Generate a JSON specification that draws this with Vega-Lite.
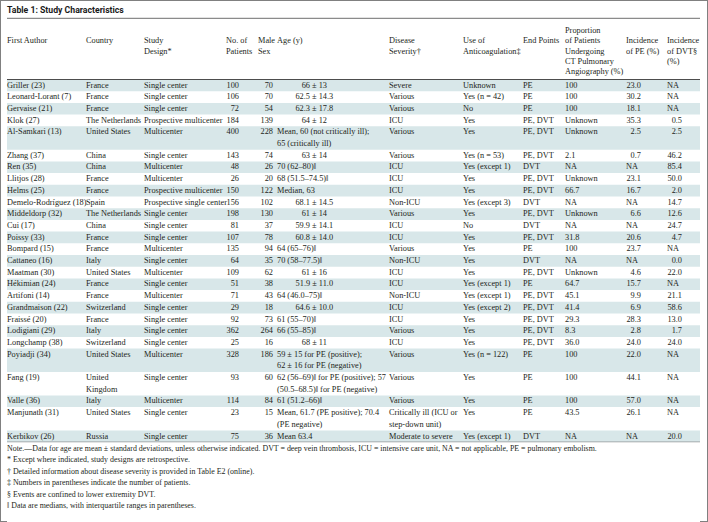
{
"$schema":"https://vega.github.io/schema/vega-lite/v6.json",
"padding":0,
"background":"white",
"config":{"view":{"stroke":null},"axis":{"disable":true},"concat":{"spacing":0},
"text":{"font":"Liberation Serif","fontSize":8.3,"color":"#231f20","lineBreak":"\n","lineHeight":11.7,"baseline":"line-top","align":"left"},
"rule":{"strokeCap":"butt"}},
"spacing":0,"bounds":"full",
"hconcat":[
{"width":7,"height":522,"data":{"values":[{}]},"layer":[
{"mark":{"type":"rule","color":"#808080","strokeWidth":1,"xOffset":0.5,"clip":true},"encoding":{"x":{"datum":"edge","type":"nominal","scale":{"type":"point","domain":["edge"],"padding":0,"align":0}}}},
{"mark":{"type":"rule","color":"#808080","strokeWidth":1,"yOffset":0.5,"clip":true},"encoding":{"y":{"datum":"top","type":"nominal","scale":{"type":"point","domain":["top","bottom"],"padding":0,"align":0}}}},
{"mark":{"type":"rule","color":"#808080","strokeWidth":1,"yOffset":-0.5,"clip":true},"encoding":{"y":{"datum":"bottom","type":"nominal"}}}
]},
{"vconcat":[
{"width":693,"height":20.5,"data":{"values":[{}]},"layer":[
{"mark":{"type":"rule","color":"#808080","strokeWidth":1,"yOffset":0.5,"clip":true},"encoding":{"y":{"datum":"top","type":"nominal","scale":{"type":"point","domain":["top","rule"],"padding":0.06,"align":0}}}},
{"mark":{"type":"rule","color":"#6e6e6e","strokeWidth":1,"clip":true},"encoding":{"y":{"datum":"rule","type":"nominal"}}},
{"mark":{"type":"text","text":"Table 1: Study Characteristics","font":"Roboto","fontWeight":"bold","fontSize":8.7,"baseline":"middle","color":"#1a1a1a"},"encoding":{"x":{"datum":"left","type":"nominal","scale":{"type":"point","domain":["left"],"padding":0,"align":0}}}}
]},
{"data":{"values":[
{"author":"Griller (23)","country":"France","design":"Single center","n":100,"male":70,"age":"66 ± 13","sev":"Severe","anti":"Unknown","ep":"PE","cta":"100","pe":"23.0","dvt":"NA"},
{"author":"Leonard-Lorant (7)","country":"France","design":"Single center","n":106,"male":70,"age":"62.5 ± 14.3","sev":"Various","anti":"Yes (n = 42)","ep":"PE","cta":"100","pe":"30.2","dvt":"NA"},
{"author":"Gervaise (21)","country":"France","design":"Single center","n":72,"male":54,"age":"62.3 ± 17.8","sev":"Various","anti":"No","ep":"PE","cta":"100","pe":"18.1","dvt":"NA"},
{"author":"Klok (27)","country":"The Netherlands","design":"Prospective multicenter","n":184,"male":139,"age":"64 ± 12","sev":"ICU","anti":"Yes","ep":"PE, DVT","cta":"Unknown","pe":"35.3","dvt":"0.5"},
{"author":"Al-Samkari (13)","country":"United States","design":"Multicenter","n":400,"male":228,"age":"Mean, 60 (not critically ill);\n\u00a0\u00a0\u00a0\u00a065 (critically ill)","sev":"Various","anti":"Yes","ep":"PE, DVT","cta":"Unknown","pe":"2.5","dvt":"2.5"},
{"author":"Zhang (37)","country":"China","design":"Single center","n":143,"male":74,"age":"63 ± 14","sev":"Various","anti":"Yes (n = 53)","ep":"PE, DVT","cta":"2.1","pe":"0.7","dvt":"46.2"},
{"author":"Ren (35)","country":"China","design":"Multicenter","n":48,"male":26,"age":"70 (62–80)‖","sev":"ICU","anti":"Yes (except 1)","ep":"DVT","cta":"NA","pe":"NA","dvt":"85.4"},
{"author":"Llitjos (28)","country":"France","design":"Multicenter","n":26,"male":20,"age":"68 (51.5–74.5)‖","sev":"ICU","anti":"Yes","ep":"PE, DVT","cta":"Unknown","pe":"23.1","dvt":"50.0"},
{"author":"Helms (25)","country":"France","design":"Prospective multicenter","n":150,"male":122,"age":"Median, 63","sev":"ICU","anti":"Yes","ep":"PE, DVT","cta":"66.7","pe":"16.7","dvt":"2.0"},
{"author":"Demelo-Rodríguez (18)","country":"Spain","design":"Prospective single center","n":156,"male":102,"age":"68.1 ± 14.5","sev":"Non-ICU","anti":"Yes (except 3)","ep":"DVT","cta":"NA","pe":"NA","dvt":"14.7"},
{"author":"Middeldorp (32)","country":"The Netherlands","design":"Single center","n":198,"male":130,"age":"61 ± 14","sev":"Various","anti":"Yes","ep":"PE, DVT","cta":"Unknown","pe":"6.6","dvt":"12.6"},
{"author":"Cui (17)","country":"China","design":"Single center","n":81,"male":37,"age":"59.9 ± 14.1","sev":"ICU","anti":"No","ep":"DVT","cta":"NA","pe":"NA","dvt":"24.7"},
{"author":"Poissy (33)","country":"France","design":"Single center","n":107,"male":78,"age":"60.8 ± 14.0","sev":"ICU","anti":"Yes","ep":"PE, DVT","cta":"31.8","pe":"20.6","dvt":"4.7"},
{"author":"Bompard (15)","country":"France","design":"Multicenter","n":135,"male":94,"age":"64 (65–76)‖","sev":"Various","anti":"Yes","ep":"PE","cta":"100","pe":"23.7","dvt":"NA"},
{"author":"Cattaneo (16)","country":"Italy","design":"Single center","n":64,"male":35,"age":"70 (58–77.5)‖","sev":"Non-ICU","anti":"Yes","ep":"DVT","cta":"NA","pe":"NA","dvt":"0.0"},
{"author":"Maatman (30)","country":"United States","design":"Multicenter","n":109,"male":62,"age":"61 ± 16","sev":"ICU","anti":"Yes","ep":"PE, DVT","cta":"Unknown","pe":"4.6","dvt":"22.0"},
{"author":"Hékimian (24)","country":"France","design":"Single center","n":51,"male":38,"age":"51.9 ± 11.0","sev":"ICU","anti":"Yes (except 1)","ep":"PE","cta":"64.7","pe":"15.7","dvt":"NA"},
{"author":"Artifoni (14)","country":"France","design":"Multicenter","n":71,"male":43,"age":"64 (46.0–75)‖","sev":"Non-ICU","anti":"Yes (except 1)","ep":"PE, DVT","cta":"45.1","pe":"9.9","dvt":"21.1"},
{"author":"Grandmaison (22)","country":"Switzerland","design":"Single center","n":29,"male":18,"age":"64.6 ± 10.0","sev":"ICU","anti":"Yes (except 2)","ep":"PE, DVT","cta":"41.4","pe":"6.9","dvt":"58.6"},
{"author":"Fraissé (20)","country":"France","design":"Single center","n":92,"male":73,"age":"61 (55–70)‖","sev":"ICU","anti":"Yes","ep":"PE, DVT","cta":"29.3","pe":"28.3","dvt":"13.0"},
{"author":"Lodigiani (29)","country":"Italy","design":"Single center","n":362,"male":264,"age":"66 (55–85)‖","sev":"Various","anti":"Yes","ep":"PE, DVT","cta":"8.3","pe":"2.8","dvt":"1.7"},
{"author":"Longchamp (38)","country":"Switzerland","design":"Single center","n":25,"male":16,"age":"68 ± 11","sev":"ICU","anti":"Yes","ep":"PE, DVT","cta":"36.0","pe":"24.0","dvt":"24.0"},
{"author":"Poyiadji (34)","country":"United States","design":"Multicenter","n":328,"male":186,"age":"59 ± 15 for PE (positive);\n\u00a0\u00a0\u00a0\u00a062 ± 16 for PE (negative)","sev":"Various","anti":"Yes (n = 122)","ep":"PE","cta":"100","pe":"22.0","dvt":"NA"},
{"author":"Fang (19)","country":"United\n\u00a0\u00a0\u00a0\u00a0\u00a0Kingdom","design":"Single center","n":93,"male":60,"age":"62 (56–69)‖ for PE (positive); 57\n\u00a0\u00a0\u00a0\u00a0(50.5–68.5)‖ for PE (negative)","sev":"Various","anti":"Yes","ep":"PE","cta":"100","pe":"44.1","dvt":"NA"},
{"author":"Valle (36)","country":"Italy","design":"Multicenter","n":114,"male":84,"age":"61 (51.2–66)‖","sev":"Various","anti":"Yes","ep":"PE","cta":"100","pe":"57.0","dvt":"NA"},
{"author":"Manjunath (31)","country":"United States","design":"Single center","n":23,"male":15,"age":"Mean, 61.7 (PE positive); 70.4\n(PE negative)","sev":"Critically ill (ICU or\n\u00a0\u00a0\u00a0\u00a0step-down unit)","anti":"Yes","ep":"PE","cta":"43.5","pe":"26.1","dvt":"NA"},
{"author":"Kerbikov (26)","country":"Russia","design":"Single center","n":75,"male":36,"age":"Mean 63.4","sev":"Moderate to severe","anti":"Yes (except 1)","ep":"DVT","cta":"NA","pe":"NA","dvt":"20.0"}
]},
"transform":[{"window":[{"op":"row_number","as":"rn"}]}],
"spacing":0,"bounds":"flush",
"hconcat":[
{"width":79,"height":421.2,"layer":[
{"transform":[{"filter":"datum.rn % 2 == 1 && indexof(datum.age, '\\n') < 0"}],"mark":{"type":"rule","color":"#d8e7e9","strokeWidth":11.7,"clip":true},"encoding":{"y":{"field":"author","type":"nominal","bandPosition":0.5,"scale":{"type":"band","domain":["h1","h2","h3","h4","h5","Griller (23)","Leonard-Lorant (7)","Gervaise (21)","Klok (27)","Al-Samkari (13)","Al-Samkari (13) +","Zhang (37)","Ren (35)","Llitjos (28)","Helms (25)","Demelo-Rodríguez (18)","Middeldorp (32)","Cui (17)","Poissy (33)","Bompard (15)","Cattaneo (16)","Maatman (30)","Hékimian (24)","Artifoni (14)","Grandmaison (22)","Fraissé (20)","Lodigiani (29)","Longchamp (38)","Poyiadji (34)","Poyiadji (34) +","Fang (19)","Fang (19) +","Valle (36)","Manjunath (31)","Manjunath (31) +","Kerbikov (26)"],"paddingInner":0,"paddingOuter":0,"round":false}}}},
{"transform":[{"filter":"datum.rn % 2 == 1 && indexof(datum.age, '\\n') >= 0"}],"mark":{"type":"rule","color":"#d8e7e9","strokeWidth":23.4,"clip":true},"encoding":{"y":{"field":"author","type":"nominal","bandPosition":1}}},
{"data":{"values":[{}]},"mark":{"type":"rule","color":"#4d4d4d","strokeWidth":1,"clip":true},"encoding":{"y":{"datum":"Griller (23)","type":"nominal","bandPosition":0}}},
{"data":{"values":[{}]},"mark":{"type":"rule","color":"#6b6b6b","strokeWidth":1,"clip":true},"encoding":{"y":{"datum":"Kerbikov (26)","type":"nominal","bandPosition":1}}},
{"data":{"values":[{}]},"mark":{"type":"text","text":["\u00a0","\u00a0","\u00a0","\u00a0","First Author"],"lineHeight":10.3,"dy":4},"encoding":{"x":{"datum":"left","type":"nominal","scale":{"type":"point","domain":["left"],"padding":0,"align":0}},"y":{"datum":"h1","type":"nominal","bandPosition":0}}},
{"mark":"text","encoding":{"x":{"datum":"left","type":"nominal"},"y":{"field":"author","type":"nominal","bandPosition":0},"text":{"field":"author","type":"nominal"}}}
]},
{"width":58,"height":421.2,"layer":[
{"transform":[{"filter":"datum.rn % 2 == 1 && indexof(datum.age, '\\n') < 0"}],"mark":{"type":"rule","color":"#d8e7e9","strokeWidth":11.7,"clip":true},"encoding":{"y":{"field":"author","type":"nominal","bandPosition":0.5,"scale":{"type":"band","domain":["h1","h2","h3","h4","h5","Griller (23)","Leonard-Lorant (7)","Gervaise (21)","Klok (27)","Al-Samkari (13)","Al-Samkari (13) +","Zhang (37)","Ren (35)","Llitjos (28)","Helms (25)","Demelo-Rodríguez (18)","Middeldorp (32)","Cui (17)","Poissy (33)","Bompard (15)","Cattaneo (16)","Maatman (30)","Hékimian (24)","Artifoni (14)","Grandmaison (22)","Fraissé (20)","Lodigiani (29)","Longchamp (38)","Poyiadji (34)","Poyiadji (34) +","Fang (19)","Fang (19) +","Valle (36)","Manjunath (31)","Manjunath (31) +","Kerbikov (26)"],"paddingInner":0,"paddingOuter":0,"round":false}}}},
{"transform":[{"filter":"datum.rn % 2 == 1 && indexof(datum.age, '\\n') >= 0"}],"mark":{"type":"rule","color":"#d8e7e9","strokeWidth":23.4,"clip":true},"encoding":{"y":{"field":"author","type":"nominal","bandPosition":1}}},
{"data":{"values":[{}]},"mark":{"type":"rule","color":"#4d4d4d","strokeWidth":1,"clip":true},"encoding":{"y":{"datum":"Griller (23)","type":"nominal","bandPosition":0}}},
{"data":{"values":[{}]},"mark":{"type":"rule","color":"#6b6b6b","strokeWidth":1,"clip":true},"encoding":{"y":{"datum":"Kerbikov (26)","type":"nominal","bandPosition":1}}},
{"data":{"values":[{}]},"mark":{"type":"text","text":["\u00a0","\u00a0","\u00a0","\u00a0","Country"],"lineHeight":10.3,"dy":4},"encoding":{"x":{"datum":"left","type":"nominal","scale":{"type":"point","domain":["left"],"padding":0,"align":0}},"y":{"datum":"h1","type":"nominal","bandPosition":0}}},
{"mark":"text","encoding":{"x":{"datum":"left","type":"nominal"},"y":{"field":"author","type":"nominal","bandPosition":0},"text":{"field":"country","type":"nominal"}}}
]},
{"width":82,"height":421.2,"layer":[
{"transform":[{"filter":"datum.rn % 2 == 1 && indexof(datum.age, '\\n') < 0"}],"mark":{"type":"rule","color":"#d8e7e9","strokeWidth":11.7,"clip":true},"encoding":{"y":{"field":"author","type":"nominal","bandPosition":0.5,"scale":{"type":"band","domain":["h1","h2","h3","h4","h5","Griller (23)","Leonard-Lorant (7)","Gervaise (21)","Klok (27)","Al-Samkari (13)","Al-Samkari (13) +","Zhang (37)","Ren (35)","Llitjos (28)","Helms (25)","Demelo-Rodríguez (18)","Middeldorp (32)","Cui (17)","Poissy (33)","Bompard (15)","Cattaneo (16)","Maatman (30)","Hékimian (24)","Artifoni (14)","Grandmaison (22)","Fraissé (20)","Lodigiani (29)","Longchamp (38)","Poyiadji (34)","Poyiadji (34) +","Fang (19)","Fang (19) +","Valle (36)","Manjunath (31)","Manjunath (31) +","Kerbikov (26)"],"paddingInner":0,"paddingOuter":0,"round":false}}}},
{"transform":[{"filter":"datum.rn % 2 == 1 && indexof(datum.age, '\\n') >= 0"}],"mark":{"type":"rule","color":"#d8e7e9","strokeWidth":23.4,"clip":true},"encoding":{"y":{"field":"author","type":"nominal","bandPosition":1}}},
{"data":{"values":[{}]},"mark":{"type":"rule","color":"#4d4d4d","strokeWidth":1,"clip":true},"encoding":{"y":{"datum":"Griller (23)","type":"nominal","bandPosition":0}}},
{"data":{"values":[{}]},"mark":{"type":"rule","color":"#6b6b6b","strokeWidth":1,"clip":true},"encoding":{"y":{"datum":"Kerbikov (26)","type":"nominal","bandPosition":1}}},
{"data":{"values":[{}]},"mark":{"type":"text","text":["\u00a0","\u00a0","\u00a0","Study","Design*"],"lineHeight":10.3,"dy":4},"encoding":{"x":{"datum":"left","type":"nominal","scale":{"type":"point","domain":["left"],"padding":0,"align":0}},"y":{"datum":"h1","type":"nominal","bandPosition":0}}},
{"mark":"text","encoding":{"x":{"datum":"left","type":"nominal"},"y":{"field":"author","type":"nominal","bandPosition":0},"text":{"field":"design","type":"nominal"}}}
]},
{"width":32,"height":421.2,"layer":[
{"transform":[{"filter":"datum.rn % 2 == 1 && indexof(datum.age, '\\n') < 0"}],"mark":{"type":"rule","color":"#d8e7e9","strokeWidth":11.7,"clip":true},"encoding":{"y":{"field":"author","type":"nominal","bandPosition":0.5,"scale":{"type":"band","domain":["h1","h2","h3","h4","h5","Griller (23)","Leonard-Lorant (7)","Gervaise (21)","Klok (27)","Al-Samkari (13)","Al-Samkari (13) +","Zhang (37)","Ren (35)","Llitjos (28)","Helms (25)","Demelo-Rodríguez (18)","Middeldorp (32)","Cui (17)","Poissy (33)","Bompard (15)","Cattaneo (16)","Maatman (30)","Hékimian (24)","Artifoni (14)","Grandmaison (22)","Fraissé (20)","Lodigiani (29)","Longchamp (38)","Poyiadji (34)","Poyiadji (34) +","Fang (19)","Fang (19) +","Valle (36)","Manjunath (31)","Manjunath (31) +","Kerbikov (26)"],"paddingInner":0,"paddingOuter":0,"round":false}}}},
{"transform":[{"filter":"datum.rn % 2 == 1 && indexof(datum.age, '\\n') >= 0"}],"mark":{"type":"rule","color":"#d8e7e9","strokeWidth":23.4,"clip":true},"encoding":{"y":{"field":"author","type":"nominal","bandPosition":1}}},
{"data":{"values":[{}]},"mark":{"type":"rule","color":"#4d4d4d","strokeWidth":1,"clip":true},"encoding":{"y":{"datum":"Griller (23)","type":"nominal","bandPosition":0}}},
{"data":{"values":[{}]},"mark":{"type":"rule","color":"#6b6b6b","strokeWidth":1,"clip":true},"encoding":{"y":{"datum":"Kerbikov (26)","type":"nominal","bandPosition":1}}},
{"data":{"values":[{}]},"mark":{"type":"text","text":["\u00a0","\u00a0","\u00a0","No. of","Patients"],"lineHeight":10.3,"dy":4},"encoding":{"x":{"datum":"left","type":"nominal","scale":{"type":"point","domain":["left","right"],"padding":0.731,"align":0}},"y":{"datum":"h1","type":"nominal","bandPosition":0}}},
{"mark":{"type":"text","align":"right"},"encoding":{"x":{"datum":"right","type":"nominal"},"y":{"field":"author","type":"nominal","bandPosition":0},"text":{"field":"n","type":"quantitative","format":"d"}}}
]},
{"width":19,"height":421.2,"layer":[
{"transform":[{"filter":"datum.rn % 2 == 1 && indexof(datum.age, '\\n') < 0"}],"mark":{"type":"rule","color":"#d8e7e9","strokeWidth":11.7,"clip":true},"encoding":{"y":{"field":"author","type":"nominal","bandPosition":0.5,"scale":{"type":"band","domain":["h1","h2","h3","h4","h5","Griller (23)","Leonard-Lorant (7)","Gervaise (21)","Klok (27)","Al-Samkari (13)","Al-Samkari (13) +","Zhang (37)","Ren (35)","Llitjos (28)","Helms (25)","Demelo-Rodríguez (18)","Middeldorp (32)","Cui (17)","Poissy (33)","Bompard (15)","Cattaneo (16)","Maatman (30)","Hékimian (24)","Artifoni (14)","Grandmaison (22)","Fraissé (20)","Lodigiani (29)","Longchamp (38)","Poyiadji (34)","Poyiadji (34) +","Fang (19)","Fang (19) +","Valle (36)","Manjunath (31)","Manjunath (31) +","Kerbikov (26)"],"paddingInner":0,"paddingOuter":0,"round":false}}}},
{"transform":[{"filter":"datum.rn % 2 == 1 && indexof(datum.age, '\\n') >= 0"}],"mark":{"type":"rule","color":"#d8e7e9","strokeWidth":23.4,"clip":true},"encoding":{"y":{"field":"author","type":"nominal","bandPosition":1}}},
{"data":{"values":[{}]},"mark":{"type":"rule","color":"#4d4d4d","strokeWidth":1,"clip":true},"encoding":{"y":{"datum":"Griller (23)","type":"nominal","bandPosition":0}}},
{"data":{"values":[{}]},"mark":{"type":"rule","color":"#6b6b6b","strokeWidth":1,"clip":true},"encoding":{"y":{"datum":"Kerbikov (26)","type":"nominal","bandPosition":1}}},
{"data":{"values":[{}]},"mark":{"type":"text","text":["\u00a0","\u00a0","\u00a0","Male","Sex"],"lineHeight":10.3,"dy":4},"encoding":{"x":{"datum":"left","type":"nominal","scale":{"type":"point","domain":["left","right"],"padding":0.133,"align":0}},"y":{"datum":"h1","type":"nominal","bandPosition":0}}},
{"mark":{"type":"text","align":"right"},"encoding":{"x":{"datum":"right","type":"nominal"},"y":{"field":"author","type":"nominal","bandPosition":0},"text":{"field":"male","type":"quantitative","format":"d"}}}
]},
{"width":112,"height":421.2,"layer":[
{"transform":[{"filter":"datum.rn % 2 == 1 && indexof(datum.age, '\\n') < 0"}],"mark":{"type":"rule","color":"#d8e7e9","strokeWidth":11.7,"clip":true},"encoding":{"y":{"field":"author","type":"nominal","bandPosition":0.5,"scale":{"type":"band","domain":["h1","h2","h3","h4","h5","Griller (23)","Leonard-Lorant (7)","Gervaise (21)","Klok (27)","Al-Samkari (13)","Al-Samkari (13) +","Zhang (37)","Ren (35)","Llitjos (28)","Helms (25)","Demelo-Rodríguez (18)","Middeldorp (32)","Cui (17)","Poissy (33)","Bompard (15)","Cattaneo (16)","Maatman (30)","Hékimian (24)","Artifoni (14)","Grandmaison (22)","Fraissé (20)","Lodigiani (29)","Longchamp (38)","Poyiadji (34)","Poyiadji (34) +","Fang (19)","Fang (19) +","Valle (36)","Manjunath (31)","Manjunath (31) +","Kerbikov (26)"],"paddingInner":0,"paddingOuter":0,"round":false}}}},
{"transform":[{"filter":"datum.rn % 2 == 1 && indexof(datum.age, '\\n') >= 0"}],"mark":{"type":"rule","color":"#d8e7e9","strokeWidth":23.4,"clip":true},"encoding":{"y":{"field":"author","type":"nominal","bandPosition":1}}},
{"data":{"values":[{}]},"mark":{"type":"rule","color":"#4d4d4d","strokeWidth":1,"clip":true},"encoding":{"y":{"datum":"Griller (23)","type":"nominal","bandPosition":0}}},
{"data":{"values":[{}]},"mark":{"type":"rule","color":"#6b6b6b","strokeWidth":1,"clip":true},"encoding":{"y":{"datum":"Kerbikov (26)","type":"nominal","bandPosition":1}}},
{"data":{"values":[{}]},"mark":{"type":"text","text":["\u00a0","\u00a0","\u00a0","\u00a0","Age (y)"],"lineHeight":10.3,"dy":4},"encoding":{"x":{"datum":"left","type":"nominal","scale":{"type":"point","domain":["left","mid"],"padding":2.372,"align":0}},"y":{"datum":"h1","type":"nominal","bandPosition":0}}},
{"transform":[{"filter":"!(indexof(datum.age, '±') >= 0 && indexof(datum.age, 'for PE') < 0)"}],"mark":"text","encoding":{"x":{"datum":"left","type":"nominal"},"y":{"field":"author","type":"nominal","bandPosition":0},"text":{"field":"age","type":"nominal"}}},
{"transform":[{"filter":"indexof(datum.age, '±') >= 0 && indexof(datum.age, 'for PE') < 0"}],"mark":{"type":"text","align":"center"},"encoding":{"x":{"datum":"mid","type":"nominal"},"y":{"field":"author","type":"nominal","bandPosition":0},"text":{"field":"age","type":"nominal"}}}
]},
{"width":74,"height":421.2,"layer":[
{"transform":[{"filter":"datum.rn % 2 == 1 && indexof(datum.age, '\\n') < 0"}],"mark":{"type":"rule","color":"#d8e7e9","strokeWidth":11.7,"clip":true},"encoding":{"y":{"field":"author","type":"nominal","bandPosition":0.5,"scale":{"type":"band","domain":["h1","h2","h3","h4","h5","Griller (23)","Leonard-Lorant (7)","Gervaise (21)","Klok (27)","Al-Samkari (13)","Al-Samkari (13) +","Zhang (37)","Ren (35)","Llitjos (28)","Helms (25)","Demelo-Rodríguez (18)","Middeldorp (32)","Cui (17)","Poissy (33)","Bompard (15)","Cattaneo (16)","Maatman (30)","Hékimian (24)","Artifoni (14)","Grandmaison (22)","Fraissé (20)","Lodigiani (29)","Longchamp (38)","Poyiadji (34)","Poyiadji (34) +","Fang (19)","Fang (19) +","Valle (36)","Manjunath (31)","Manjunath (31) +","Kerbikov (26)"],"paddingInner":0,"paddingOuter":0,"round":false}}}},
{"transform":[{"filter":"datum.rn % 2 == 1 && indexof(datum.age, '\\n') >= 0"}],"mark":{"type":"rule","color":"#d8e7e9","strokeWidth":23.4,"clip":true},"encoding":{"y":{"field":"author","type":"nominal","bandPosition":1}}},
{"data":{"values":[{}]},"mark":{"type":"rule","color":"#4d4d4d","strokeWidth":1,"clip":true},"encoding":{"y":{"datum":"Griller (23)","type":"nominal","bandPosition":0}}},
{"data":{"values":[{}]},"mark":{"type":"rule","color":"#6b6b6b","strokeWidth":1,"clip":true},"encoding":{"y":{"datum":"Kerbikov (26)","type":"nominal","bandPosition":1}}},
{"data":{"values":[{}]},"mark":{"type":"text","text":["\u00a0","\u00a0","\u00a0","Disease","Severity†"],"lineHeight":10.3,"dy":4},"encoding":{"x":{"datum":"left","type":"nominal","scale":{"type":"point","domain":["left"],"padding":0,"align":0}},"y":{"datum":"h1","type":"nominal","bandPosition":0}}},
{"mark":"text","encoding":{"x":{"datum":"left","type":"nominal"},"y":{"field":"author","type":"nominal","bandPosition":0},"text":{"field":"sev","type":"nominal"}}}
]},
{"width":60,"height":421.2,"layer":[
{"transform":[{"filter":"datum.rn % 2 == 1 && indexof(datum.age, '\\n') < 0"}],"mark":{"type":"rule","color":"#d8e7e9","strokeWidth":11.7,"clip":true},"encoding":{"y":{"field":"author","type":"nominal","bandPosition":0.5,"scale":{"type":"band","domain":["h1","h2","h3","h4","h5","Griller (23)","Leonard-Lorant (7)","Gervaise (21)","Klok (27)","Al-Samkari (13)","Al-Samkari (13) +","Zhang (37)","Ren (35)","Llitjos (28)","Helms (25)","Demelo-Rodríguez (18)","Middeldorp (32)","Cui (17)","Poissy (33)","Bompard (15)","Cattaneo (16)","Maatman (30)","Hékimian (24)","Artifoni (14)","Grandmaison (22)","Fraissé (20)","Lodigiani (29)","Longchamp (38)","Poyiadji (34)","Poyiadji (34) +","Fang (19)","Fang (19) +","Valle (36)","Manjunath (31)","Manjunath (31) +","Kerbikov (26)"],"paddingInner":0,"paddingOuter":0,"round":false}}}},
{"transform":[{"filter":"datum.rn % 2 == 1 && indexof(datum.age, '\\n') >= 0"}],"mark":{"type":"rule","color":"#d8e7e9","strokeWidth":23.4,"clip":true},"encoding":{"y":{"field":"author","type":"nominal","bandPosition":1}}},
{"data":{"values":[{}]},"mark":{"type":"rule","color":"#4d4d4d","strokeWidth":1,"clip":true},"encoding":{"y":{"datum":"Griller (23)","type":"nominal","bandPosition":0}}},
{"data":{"values":[{}]},"mark":{"type":"rule","color":"#6b6b6b","strokeWidth":1,"clip":true},"encoding":{"y":{"datum":"Kerbikov (26)","type":"nominal","bandPosition":1}}},
{"data":{"values":[{}]},"mark":{"type":"text","text":["\u00a0","\u00a0","\u00a0","Use of","Anticoagulation‡"],"lineHeight":10.3,"dy":4},"encoding":{"x":{"datum":"left","type":"nominal","scale":{"type":"point","domain":["left"],"padding":0,"align":0}},"y":{"datum":"h1","type":"nominal","bandPosition":0}}},
{"mark":"text","encoding":{"x":{"datum":"left","type":"nominal"},"y":{"field":"author","type":"nominal","bandPosition":0},"text":{"field":"anti","type":"nominal"}}}
]},
{"width":42,"height":421.2,"layer":[
{"transform":[{"filter":"datum.rn % 2 == 1 && indexof(datum.age, '\\n') < 0"}],"mark":{"type":"rule","color":"#d8e7e9","strokeWidth":11.7,"clip":true},"encoding":{"y":{"field":"author","type":"nominal","bandPosition":0.5,"scale":{"type":"band","domain":["h1","h2","h3","h4","h5","Griller (23)","Leonard-Lorant (7)","Gervaise (21)","Klok (27)","Al-Samkari (13)","Al-Samkari (13) +","Zhang (37)","Ren (35)","Llitjos (28)","Helms (25)","Demelo-Rodríguez (18)","Middeldorp (32)","Cui (17)","Poissy (33)","Bompard (15)","Cattaneo (16)","Maatman (30)","Hékimian (24)","Artifoni (14)","Grandmaison (22)","Fraissé (20)","Lodigiani (29)","Longchamp (38)","Poyiadji (34)","Poyiadji (34) +","Fang (19)","Fang (19) +","Valle (36)","Manjunath (31)","Manjunath (31) +","Kerbikov (26)"],"paddingInner":0,"paddingOuter":0,"round":false}}}},
{"transform":[{"filter":"datum.rn % 2 == 1 && indexof(datum.age, '\\n') >= 0"}],"mark":{"type":"rule","color":"#d8e7e9","strokeWidth":23.4,"clip":true},"encoding":{"y":{"field":"author","type":"nominal","bandPosition":1}}},
{"data":{"values":[{}]},"mark":{"type":"rule","color":"#4d4d4d","strokeWidth":1,"clip":true},"encoding":{"y":{"datum":"Griller (23)","type":"nominal","bandPosition":0}}},
{"data":{"values":[{}]},"mark":{"type":"rule","color":"#6b6b6b","strokeWidth":1,"clip":true},"encoding":{"y":{"datum":"Kerbikov (26)","type":"nominal","bandPosition":1}}},
{"data":{"values":[{}]},"mark":{"type":"text","text":["\u00a0","\u00a0","\u00a0","\u00a0","End Points"],"lineHeight":10.3,"dy":4},"encoding":{"x":{"datum":"left","type":"nominal","scale":{"type":"point","domain":["left"],"padding":0,"align":0}},"y":{"datum":"h1","type":"nominal","bandPosition":0}}},
{"mark":"text","encoding":{"x":{"datum":"left","type":"nominal"},"y":{"field":"author","type":"nominal","bandPosition":0},"text":{"field":"ep","type":"nominal"}}}
]},
{"width":61,"height":421.2,"layer":[
{"transform":[{"filter":"datum.rn % 2 == 1 && indexof(datum.age, '\\n') < 0"}],"mark":{"type":"rule","color":"#d8e7e9","strokeWidth":11.7,"clip":true},"encoding":{"y":{"field":"author","type":"nominal","bandPosition":0.5,"scale":{"type":"band","domain":["h1","h2","h3","h4","h5","Griller (23)","Leonard-Lorant (7)","Gervaise (21)","Klok (27)","Al-Samkari (13)","Al-Samkari (13) +","Zhang (37)","Ren (35)","Llitjos (28)","Helms (25)","Demelo-Rodríguez (18)","Middeldorp (32)","Cui (17)","Poissy (33)","Bompard (15)","Cattaneo (16)","Maatman (30)","Hékimian (24)","Artifoni (14)","Grandmaison (22)","Fraissé (20)","Lodigiani (29)","Longchamp (38)","Poyiadji (34)","Poyiadji (34) +","Fang (19)","Fang (19) +","Valle (36)","Manjunath (31)","Manjunath (31) +","Kerbikov (26)"],"paddingInner":0,"paddingOuter":0,"round":false}}}},
{"transform":[{"filter":"datum.rn % 2 == 1 && indexof(datum.age, '\\n') >= 0"}],"mark":{"type":"rule","color":"#d8e7e9","strokeWidth":23.4,"clip":true},"encoding":{"y":{"field":"author","type":"nominal","bandPosition":1}}},
{"data":{"values":[{}]},"mark":{"type":"rule","color":"#4d4d4d","strokeWidth":1,"clip":true},"encoding":{"y":{"datum":"Griller (23)","type":"nominal","bandPosition":0}}},
{"data":{"values":[{}]},"mark":{"type":"rule","color":"#6b6b6b","strokeWidth":1,"clip":true},"encoding":{"y":{"datum":"Kerbikov (26)","type":"nominal","bandPosition":1}}},
{"data":{"values":[{}]},"mark":{"type":"text","text":["Proportion","of Patients","Undergoing","CT Pulmonary","Angiography (%)"],"lineHeight":10.3,"dy":4},"encoding":{"x":{"datum":"left","type":"nominal","scale":{"type":"point","domain":["left"],"padding":0,"align":0}},"y":{"datum":"h1","type":"nominal","bandPosition":0}}},
{"mark":"text","encoding":{"x":{"datum":"left","type":"nominal"},"y":{"field":"author","type":"nominal","bandPosition":0},"text":{"field":"cta","type":"nominal"}}}
]},
{"width":41,"height":421.2,"layer":[
{"transform":[{"filter":"datum.rn % 2 == 1 && indexof(datum.age, '\\n') < 0"}],"mark":{"type":"rule","color":"#d8e7e9","strokeWidth":11.7,"clip":true},"encoding":{"y":{"field":"author","type":"nominal","bandPosition":0.5,"scale":{"type":"band","domain":["h1","h2","h3","h4","h5","Griller (23)","Leonard-Lorant (7)","Gervaise (21)","Klok (27)","Al-Samkari (13)","Al-Samkari (13) +","Zhang (37)","Ren (35)","Llitjos (28)","Helms (25)","Demelo-Rodríguez (18)","Middeldorp (32)","Cui (17)","Poissy (33)","Bompard (15)","Cattaneo (16)","Maatman (30)","Hékimian (24)","Artifoni (14)","Grandmaison (22)","Fraissé (20)","Lodigiani (29)","Longchamp (38)","Poyiadji (34)","Poyiadji (34) +","Fang (19)","Fang (19) +","Valle (36)","Manjunath (31)","Manjunath (31) +","Kerbikov (26)"],"paddingInner":0,"paddingOuter":0,"round":false}}}},
{"transform":[{"filter":"datum.rn % 2 == 1 && indexof(datum.age, '\\n') >= 0"}],"mark":{"type":"rule","color":"#d8e7e9","strokeWidth":23.4,"clip":true},"encoding":{"y":{"field":"author","type":"nominal","bandPosition":1}}},
{"data":{"values":[{}]},"mark":{"type":"rule","color":"#4d4d4d","strokeWidth":1,"clip":true},"encoding":{"y":{"datum":"Griller (23)","type":"nominal","bandPosition":0}}},
{"data":{"values":[{}]},"mark":{"type":"rule","color":"#6b6b6b","strokeWidth":1,"clip":true},"encoding":{"y":{"datum":"Kerbikov (26)","type":"nominal","bandPosition":1}}},
{"data":{"values":[{}]},"mark":{"type":"text","text":["\u00a0","\u00a0","\u00a0","Incidence","of PE (%)"],"lineHeight":10.3,"dy":4},"encoding":{"x":{"datum":"left","type":"nominal","scale":{"type":"point","domain":["left","right"],"padding":0.867,"align":0}},"y":{"datum":"h1","type":"nominal","bandPosition":0}}},
{"transform":[{"filter":"datum.pe === 'NA'"}],"mark":"text","encoding":{"x":{"datum":"left","type":"nominal"},"y":{"field":"author","type":"nominal","bandPosition":0},"text":{"field":"pe","type":"nominal"}}},
{"transform":[{"filter":"datum.pe !== 'NA'"}],"mark":{"type":"text","align":"right"},"encoding":{"x":{"datum":"right","type":"nominal"},"y":{"field":"author","type":"nominal","bandPosition":0},"text":{"field":"pe","type":"nominal"}}}
]},
{"width":33,"height":421.2,"layer":[
{"transform":[{"filter":"datum.rn % 2 == 1 && indexof(datum.age, '\\n') < 0"}],"mark":{"type":"rule","color":"#d8e7e9","strokeWidth":11.7,"clip":true},"encoding":{"y":{"field":"author","type":"nominal","bandPosition":0.5,"scale":{"type":"band","domain":["h1","h2","h3","h4","h5","Griller (23)","Leonard-Lorant (7)","Gervaise (21)","Klok (27)","Al-Samkari (13)","Al-Samkari (13) +","Zhang (37)","Ren (35)","Llitjos (28)","Helms (25)","Demelo-Rodríguez (18)","Middeldorp (32)","Cui (17)","Poissy (33)","Bompard (15)","Cattaneo (16)","Maatman (30)","Hékimian (24)","Artifoni (14)","Grandmaison (22)","Fraissé (20)","Lodigiani (29)","Longchamp (38)","Poyiadji (34)","Poyiadji (34) +","Fang (19)","Fang (19) +","Valle (36)","Manjunath (31)","Manjunath (31) +","Kerbikov (26)"],"paddingInner":0,"paddingOuter":0,"round":false}}}},
{"transform":[{"filter":"datum.rn % 2 == 1 && indexof(datum.age, '\\n') >= 0"}],"mark":{"type":"rule","color":"#d8e7e9","strokeWidth":23.4,"clip":true},"encoding":{"y":{"field":"author","type":"nominal","bandPosition":1}}},
{"data":{"values":[{}]},"mark":{"type":"rule","color":"#4d4d4d","strokeWidth":1,"clip":true},"encoding":{"y":{"datum":"Griller (23)","type":"nominal","bandPosition":0}}},
{"data":{"values":[{}]},"mark":{"type":"rule","color":"#6b6b6b","strokeWidth":1,"clip":true},"encoding":{"y":{"datum":"Kerbikov (26)","type":"nominal","bandPosition":1}}},
{"data":{"values":[{}]},"mark":{"type":"text","text":["\u00a0","\u00a0","Incidence","of DVT§","(%)"],"lineHeight":10.3,"dy":4},"encoding":{"x":{"datum":"left","type":"nominal","scale":{"type":"point","domain":["left","right"],"padding":0.6,"align":0}},"y":{"datum":"h1","type":"nominal","bandPosition":0}}},
{"transform":[{"filter":"datum.dvt === 'NA'"}],"mark":"text","encoding":{"x":{"datum":"left","type":"nominal"},"y":{"field":"author","type":"nominal","bandPosition":0},"text":{"field":"dvt","type":"nominal"}}},
{"transform":[{"filter":"datum.dvt !== 'NA'"}],"mark":{"type":"text","align":"right"},"encoding":{"x":{"datum":"right","type":"nominal"},"y":{"field":"author","type":"nominal","bandPosition":0},"text":{"field":"dvt","type":"nominal"}}}
]}
]},
{"width":693,"height":80.3,"data":{"values":[{}]},"layer":[
{"mark":{"type":"text","text":["Note.—Data for age are mean ± standard deviations, unless otherwise indicated. DVT = deep vein thrombosis, ICU = intensive care unit, NA = not applicable, PE = pulmonary embolism.","* Except where indicated, study designs are retrospective.","† Detailed information about disease severity is provided in Table E2 (online).","‡ Numbers in parentheses indicate the number of patients.","§ Events are confined to lower extremity DVT.","‖ Data are medians, with interquartile ranges in parentheses."],"fontSize":7.9,"lineHeight":11.4},"encoding":{"x":{"datum":"left","type":"nominal","scale":{"type":"point","domain":["left"],"padding":0,"align":0}},"y":{"datum":"top","type":"nominal","scale":{"type":"point","domain":["top","bottom"],"padding":0,"align":0}}}},
{"mark":{"type":"rule","color":"#808080","strokeWidth":1,"yOffset":-0.5,"clip":true},"encoding":{"y":{"datum":"bottom","type":"nominal"}}}
]}
],"spacing":0,"bounds":"full"},
{"width":8,"height":522,"data":{"values":[{}]},"layer":[
{"mark":{"type":"rule","color":"#808080","strokeWidth":1,"xOffset":-0.5,"clip":true},"encoding":{"x":{"datum":"edge","type":"nominal","scale":{"type":"point","domain":["edge"],"padding":0,"align":1}}}},
{"mark":{"type":"rule","color":"#808080","strokeWidth":1,"yOffset":0.5,"clip":true},"encoding":{"y":{"datum":"top","type":"nominal","scale":{"type":"point","domain":["top","bottom"],"padding":0,"align":0}}}},
{"mark":{"type":"rule","color":"#808080","strokeWidth":1,"yOffset":-0.5,"clip":true},"encoding":{"y":{"datum":"bottom","type":"nominal"}}}
]}
]
}
